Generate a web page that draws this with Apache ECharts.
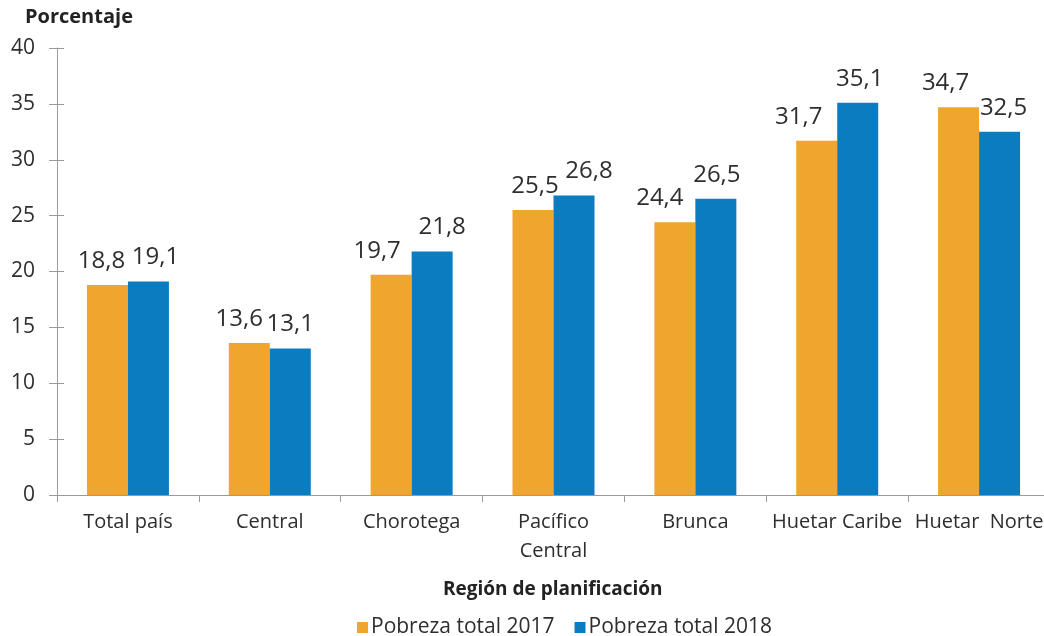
<!DOCTYPE html>
<html>
<head>
<meta charset="utf-8">
<script src="https://cdn.jsdelivr.net/npm/echarts@6/dist/echarts.min.js"></script>
<style>
  html, body { margin: 0; padding: 0; background: #fff; overflow: hidden; }
  /* plot runs a few px past the right edge of the picture, as in the original */
  #chart { width: 1050px; height: 636px; }
</style>
</head>
<body>
<div id="chart"></div>
<script>
// Pobreza total por región de planificación, 2017 vs 2018
const regions = ["Total país", "Central", "Chorotega", "Pacífico\nCentral", "Brunca", "Huetar Caribe", "Huetar  Norte"];
const pobreza2017 = [18.8, 13.6, 19.7, 25.5, 24.4, 31.7, 34.7];
const pobreza2018 = [19.1, 13.1, 21.8, 26.8, 26.5, 35.1, 32.5];
const yTicks = [0, 5, 10, 15, 20, 25, 30, 35, 40];

// the data labels were nudged sideways by hand in the original
const labelShift2017 = [-6, -10, -14, 2, -15, -18, -13];
const labelShift2018 = [7, 0, 10, 15, 1, 2, 4];

const font = "'Open Sans', Lato, sans-serif";
const textColor = "#2e2e2e";
const axisColor = "#9a9a9a";

// comma as decimal separator
let fmt = (v) => v.toFixed(1).replace(".", ",");

let barSeries = (name, data, shifts, color) => ({
  name: name,
  type: "bar",
  data: data.map((v, i) => ({ value: v, label: { offset: [shifts[i], 0] } })),
  barWidth: 41,
  barGap: "0%",
  itemStyle: { color: color },
  label: {
    show: true,
    position: "top",
    distance: 12,
    color: textColor,
    fontFamily: font,
    fontSize: 24,
    formatter: (p) => fmt(p.value)
  }
});

const chart = echarts.init(document.getElementById("chart"), null, { renderer: "canvas" });

chart.setOption({
  animation: false,
  title: [
    {
      text: "Porcentaje",
      left: 20, top: 2,
      textStyle: { fontFamily: font, fontSize: 20, fontWeight: "bold", color: "#222" }
    },
    {
      text: "Región de planificación",
      left: 438, top: 575,
      textStyle: { fontFamily: font, fontSize: 19, fontWeight: "bold", color: "#222" }
    }
  ],
  legend: {
    left: 352, top: 612,
    itemWidth: 11, itemHeight: 11, itemGap: 20,
    icon: "rect",
    textStyle: { fontFamily: font, fontSize: 21, color: textColor, padding: [0, 0, 0, -2] },
    data: ["Pobreza total 2017", "Pobreza total 2018"]
  },
  grid: { left: 57, right: 0, top: 48, bottom: 141, containLabel: false },
  xAxis: {
    type: "category",
    data: regions,
    axisLine: { lineStyle: { color: axisColor } },
    axisTick: { show: true, alignWithLabel: false, length: 7, lineStyle: { color: axisColor } },
    axisLabel: {
      interval: 0, margin: 13,
      color: textColor, fontFamily: font, fontSize: 20, lineHeight: 29
    }
  },
  yAxis: [
    {
      type: "value",
      min: yTicks[0], max: yTicks[yTicks.length - 1], interval: 5,
      splitLine: { show: false },
      axisLine: { show: true, lineStyle: { color: axisColor } },
      axisTick: { show: true, length: 8, lineStyle: { color: axisColor } },
      axisLabel: { margin: 22, color: textColor, fontFamily: font, fontSize: 21 }
    },
    {
      // inner half of the crossing ticks
      type: "value",
      position: "left",
      min: yTicks[0], max: yTicks[yTicks.length - 1], interval: 5,
      splitLine: { show: false },
      axisLine: { show: false },
      axisTick: { show: true, inside: true, length: 7, lineStyle: { color: axisColor } },
      axisLabel: { show: false }
    }
  ],
  series: [
    barSeries("Pobreza total 2017", pobreza2017, labelShift2017, "#F0A52E"),
    barSeries("Pobreza total 2018", pobreza2018, labelShift2018, "#0C7CC0")
  ]
});
</script>
</body>
</html>
